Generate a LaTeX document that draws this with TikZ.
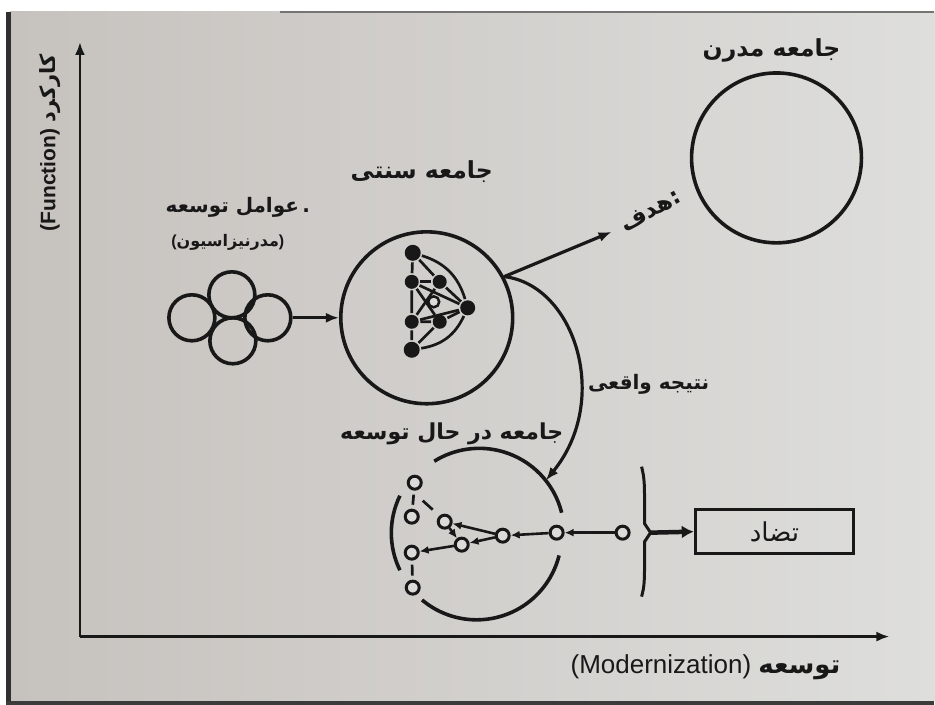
\documentclass[tikz,border=0pt]{standalone}
\usepackage{fontspec}
\setmainfont{Liberation Sans}
\newfontfamily\fa[Script=Arabic]{DejaVu Sans}
\TeXXeTstate=1
\usetikzlibrary{arrows.meta,calc}
\definecolor{ink}{RGB}{24,24,24}
\definecolor{paperL}{RGB}{198,194,190}
\definecolor{paperR}{RGB}{222,222,220}
\newcommand{\fs}[1]{\fontsize{#1}{#1}\selectfont}
\begin{document}
\begin{tikzpicture}[x=1pt,y=1pt,
  line width=3.2pt,
  every node/.style={text=ink},
  ring/.style={circle, draw=ink, line width=3.6pt, minimum size=#1, inner sep=0pt},
  dot/.style={circle, fill=ink, minimum size=#1, inner sep=0pt},
  oring/.style={circle, draw=ink, line width=3pt, fill=paperR!90!paperL, minimum size=13pt, inner sep=0pt},
  fatext/.style={font=\fa\bfseries\fs{#1}},
  arr/.style={draw=ink, -{Latex[length=13pt,width=10pt]}},
  sarr/.style={draw=ink, line width=2.6pt, -{Latex[length=9pt,width=8pt]}},
  net/.style={draw=ink, line width=2.7pt},
]
% background
\fill[white] (0,0) rectangle (935,705);
\shade[left color=paperL, right color=paperR] (10,3) rectangle (935,693);
\fill[ink!90] (6,0) rectangle (11,693);
\fill[ink!85] (6,0) rectangle (935,4);
\draw[ink!60, line width=1.2pt] (280,693) -- (935,693);
\useasboundingbox (0,0) rectangle (935,705);

% axes
\coordinate (O) at (80,68);
\coordinate (ytop) at (80,663);
\coordinate (xend) at (890,68);
\draw[arr, line width=2.6pt] (O) -- (ytop);
\draw[arr, line width=2.6pt] (O) -- (xend);
\node[font=\bfseries\fs{21}, rotate=90] (ylab) at (50,562) {(Function) {\fa\bfseries\beginR کارکرد\endR}};
\node[font=\fs{26}] (xlab) at (706,37) {(Modernization) {\fa\bfseries\beginR توسعه\endR}};

% factors of development
\node[ring=46pt] (cL) at (192,387) {};
\node[ring=46pt] (cT) at (232,410) {};
\node[ring=46pt] (cR) at (268,387) {};
\node[ring=46pt] (cB) at (233,364) {};
\node[fatext=20] (fl) at (238,498) {\beginR عوامل توسعه\endR\,.};
\node[fatext=16] (fm) at (228,462) {{\normalfont\bfseries(}\beginR مدرنیزاسیون\endR{\normalfont\bfseries)}};

% traditional society
\node[ring=172pt] (tc) at (427,387) {};
\node[fatext=23.5] (tl) at (422,533) {\beginR جامعه سنتی\endR};
\draw[arr] (cR) -- (tc);

\node[dot=16pt] (A) at (413,452) {};
\node[dot=14pt] (B) at (412,423) {};
\node[dot=14pt] (C) at (440,423) {};
\node[dot=15pt] (D) at (468,397) {};
\node[dot=14pt] (E) at (412,383) {};
\node[dot=14pt] (F) at (440,383) {};
\node[dot=16pt] (G) at (412,355) {};
\draw[net] (A) -- (B) -- (E) -- (G);
\draw[net] (A) -- (C) -- (D);
\draw[net] (B) -- (C);
\draw[net] (E) -- (F) -- (D);
\draw[net] (G) -- (F);
\draw[net] (B) -- (F);
\draw[net] (E) -- (C);
\draw[net] (B) -- (D);
\draw[net] (E) -- (D);
\draw[net] (A) to[bend left=28] (D);
\draw[net] (G) to[bend right=28] (D);
\node[oring, minimum size=11pt, line width=2.5pt] (H) at (434,403) {};

% modern society
\node[ring=170pt] (mc) at (777,547) {};
\node[fatext=23.5] (ml) at (772,655) {\beginR جامعه مدرن\endR};

% goal arrow
\coordinate (tcj) at (tc.28);
\coordinate (goal) at (612,473);
\draw[arr] (tcj) -- (goal);
\node[fatext=23, rotate=28] (gl) at (651,494) {{\beginR هدف\endR}:};

% developing society
\node[circle, minimum size=170pt, inner sep=0pt] (dev) at (478,171) {};
\draw[line width=3.6pt, draw=ink] (dev.14) arc[start angle=14, end angle=122, radius=85pt];
\draw[line width=3.6pt, draw=ink] (dev.154) arc[start angle=154, end angle=206, radius=85pt];
\draw[line width=3.6pt, draw=ink] (dev.230) arc[start angle=230, end angle=346, radius=85pt];
\node[fatext=22] (dl) at (452,271) {\beginR جامعه در حال توسعه\endR};

% actual result curve
\draw[arr] (tcj) .. controls (575,420) and (612,305) .. (dev.38);
\node[fatext=20] (rl) at (649,320) {\beginR نتیجه واقعی\endR};

% developing network
\node[oring] (n1) at (415,222) {};
\node[oring] (n2) at (412,188) {};
\node[oring] (n3) at (445,183) {};
\node[oring] (n4) at (462,160) {};
\node[oring] (n5) at (412,152) {};
\node[oring] (n6) at (413,117) {};
\node[oring] (n7) at (503,169) {};
\node[oring] (n8) at (557,172) {};
\node[oring] (n9) at (623,172) {};
\draw[net, shorten <=4pt, shorten >=4pt] (n1) -- (n2);
\draw[net, shorten <=4pt, shorten >=4pt] (n5) -- (n6);
\coordinate (s1) at (423,204);
\coordinate (s2) at (433,195);
\draw[net] (s1) -- (s2);
\draw[sarr] (n9) -- (n8);
\draw[sarr] (n8) -- (n7);
\draw[sarr] (n7) -- (n3);
\draw[sarr] (n7) -- (n4);
\draw[sarr] (n3) -- (n4);
\draw[sarr] (n4) -- (n5);

% bracket and contradiction box
\coordinate (b1) at (642,238);
\coordinate (b2) at (645,181);
\coordinate (bm) at (651,172);
\coordinate (b3) at (645,163);
\coordinate (b4) at (642,108);
\draw[draw=ink, line width=3pt] (b1) .. controls (645,225) .. (b2) -- (bm) -- (b3) .. controls (645,120) .. (b4);
\node[draw=ink, line width=3.6pt, minimum width=158pt, minimum height=44pt, font=\fa\fs{26}] (box) at (775,173) {\beginR تضاد\endR};
\draw[draw=ink, line width=4.5pt, -{Latex[length=12pt,width=13pt]}] (bm) -- (box.west);
\end{tikzpicture}
\end{document}
